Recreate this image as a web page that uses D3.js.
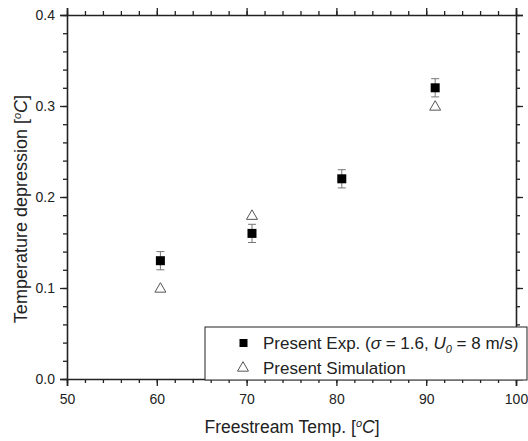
<!DOCTYPE html>
<html>
<head>
<meta charset="utf-8">
<script src="https://cdn.jsdelivr.net/npm/d3@7"></script>
<style>
body { margin: 0; background: #fff; }
text { font-family: "Liberation Sans", Arial, sans-serif; fill: #222; }
</style>
</head>
<body>
<div id="chart"></div>
<script>
// data
let expTemp = [60.4, 70.6, 80.6, 91.0];
let expDep = [0.13, 0.16, 0.22, 0.32];
let expErr = [0.01, 0.01, 0.01, 0.01];
let simTemp = [60.4, 70.6, 91.0];
let simDep = [0.10, 0.18, 0.30];
let xTicks = [50, 60, 70, 80, 90, 100];
let yTicks = [0.0, 0.1, 0.2, 0.3, 0.4];

let svgWidth = 528, svgHeight = 441;
let margin = {left: 67, right: 12, top: 15, bottom: 62};

let svg = d3.select("#chart").append("svg")
    .attr("width", svgWidth)
    .attr("height", svgHeight);

let x = d3.scaleLinear().domain([50, 100]).range([margin.left, svgWidth - margin.right]);
let y = d3.scaleLinear().domain([0, 0.4]).range([svgHeight - margin.bottom, margin.top]);

let xMinor = d3.range(50, 100.1, 2);
let yMinor = d3.range(0, 0.401, 0.02);

function drawAxis(axisFn, scale, ticks, minor, transform, showLabels, pad){
    let g = svg.append("g").attr("transform", transform);
    g.call(axisFn(scale).tickValues(minor).tickSize(4).tickFormat(""));
    let maj = svg.append("g").attr("transform", transform);
    maj.call(axisFn(scale).tickValues(ticks).tickSize(7).tickPadding(pad)
        .tickFormat(showLabels ? (scale === y ? d3.format(".1f") : d3.format("d")) : ""));
    [g, maj].forEach(a => {
        a.selectAll("path").attr("stroke", "#222").attr("stroke-width", 1.6);
        a.selectAll("line").attr("stroke", "#222").attr("stroke-width", 1.3);
        a.selectAll("text").style("font-size", "14px").attr("fill", "#222");
    });
    g.select("path").remove();
}

drawAxis(d3.axisBottom, x, xTicks, xMinor, "translate(0," + y(0) + ")", true, 8);
drawAxis(d3.axisTop, x, xTicks, xMinor, "translate(0," + y(0.4) + ")", false, 4);
drawAxis(d3.axisLeft, y, yTicks, yMinor, "translate(" + x(50) + ",0)", true, 5);
drawAxis(d3.axisRight, y, yTicks, yMinor, "translate(" + x(100) + ",0)", false, 4);

// axis titles
let deg = '[<tspan baseline-shift="super" font-size="11px" font-style="italic">o</tspan><tspan font-style="italic">C</tspan>]';
svg.append("text")
    .attr("x", 292)
    .attr("y", 433)
    .attr("text-anchor", "middle")
    .style("font-size", "17.5px")
    .html('Freestream Temp. ' + deg);

svg.append("text")
    .attr("transform", "translate(27,209) rotate(-90)")
    .attr("text-anchor", "middle")
    .style("font-size", "18px")
    .html('Temperature depression ' + deg);

// error bars
let expData = expTemp.map((t, i) => ({t: t, v: expDep[i], e: expErr[i]}));
let simData = simTemp.map((t, i) => ({t: t, v: simDep[i]}));

let eb = svg.append("g").attr("stroke", "#777").attr("stroke-width", 1);
eb.selectAll("line.v").data(expData).enter().append("line")
    .attr("x1", d => x(d.t)).attr("x2", d => x(d.t))
    .attr("y1", d => y(d.v - d.e)).attr("y2", d => y(d.v + d.e));
[-1, 1].forEach(s => {
    eb.selectAll("line.c" + s).data(expData).enter().append("line")
        .attr("x1", d => x(d.t) - 4).attr("x2", d => x(d.t) + 4)
        .attr("y1", d => y(d.v + s * d.e)).attr("y2", d => y(d.v + s * d.e));
});

// markers
svg.selectAll("rect.exp").data(expData).enter().append("rect")
    .attr("x", d => x(d.t) - 4.5).attr("y", d => y(d.v) - 4.5)
    .attr("width", 9).attr("height", 9).attr("fill", "#000");

let tri = d3.symbol().type(d3.symbolTriangle).size(52);
svg.selectAll("path.sim").data(simData).enter().append("path")
    .attr("d", tri)
    .attr("transform", d => "translate(" + x(d.t) + "," + (y(d.v) + 1) + ")")
    .attr("fill", "none").attr("stroke", "#555").attr("stroke-width", 1);

// legend
let lg = svg.append("g");
lg.append("rect").attr("x", 205).attr("y", 327).attr("width", 322).attr("height", 53)
    .attr("fill", "#fff").attr("stroke", "#222").attr("stroke-width", 1);
lg.append("rect").attr("x", 239.5).attr("y", 339).attr("width", 8).attr("height", 8).attr("fill", "#000");
lg.append("path").attr("d", tri).attr("transform", "translate(243,368)")
    .attr("fill", "none").attr("stroke", "#555").attr("stroke-width", 1);
lg.append("text").attr("x", 263).attr("y", 349).style("font-size", "17px")
    .html('Present Exp. (<tspan font-style="italic">σ</tspan> = 1.6, <tspan font-style="italic">U</tspan><tspan font-style="italic" font-size="11px" dy="4">0</tspan><tspan dy="-4"> = 8 m/s)</tspan>');
lg.append("text").attr("x", 263).attr("y", 374).style("font-size", "17px")
    .text("Present Simulation");
</script>
</body>
</html>
